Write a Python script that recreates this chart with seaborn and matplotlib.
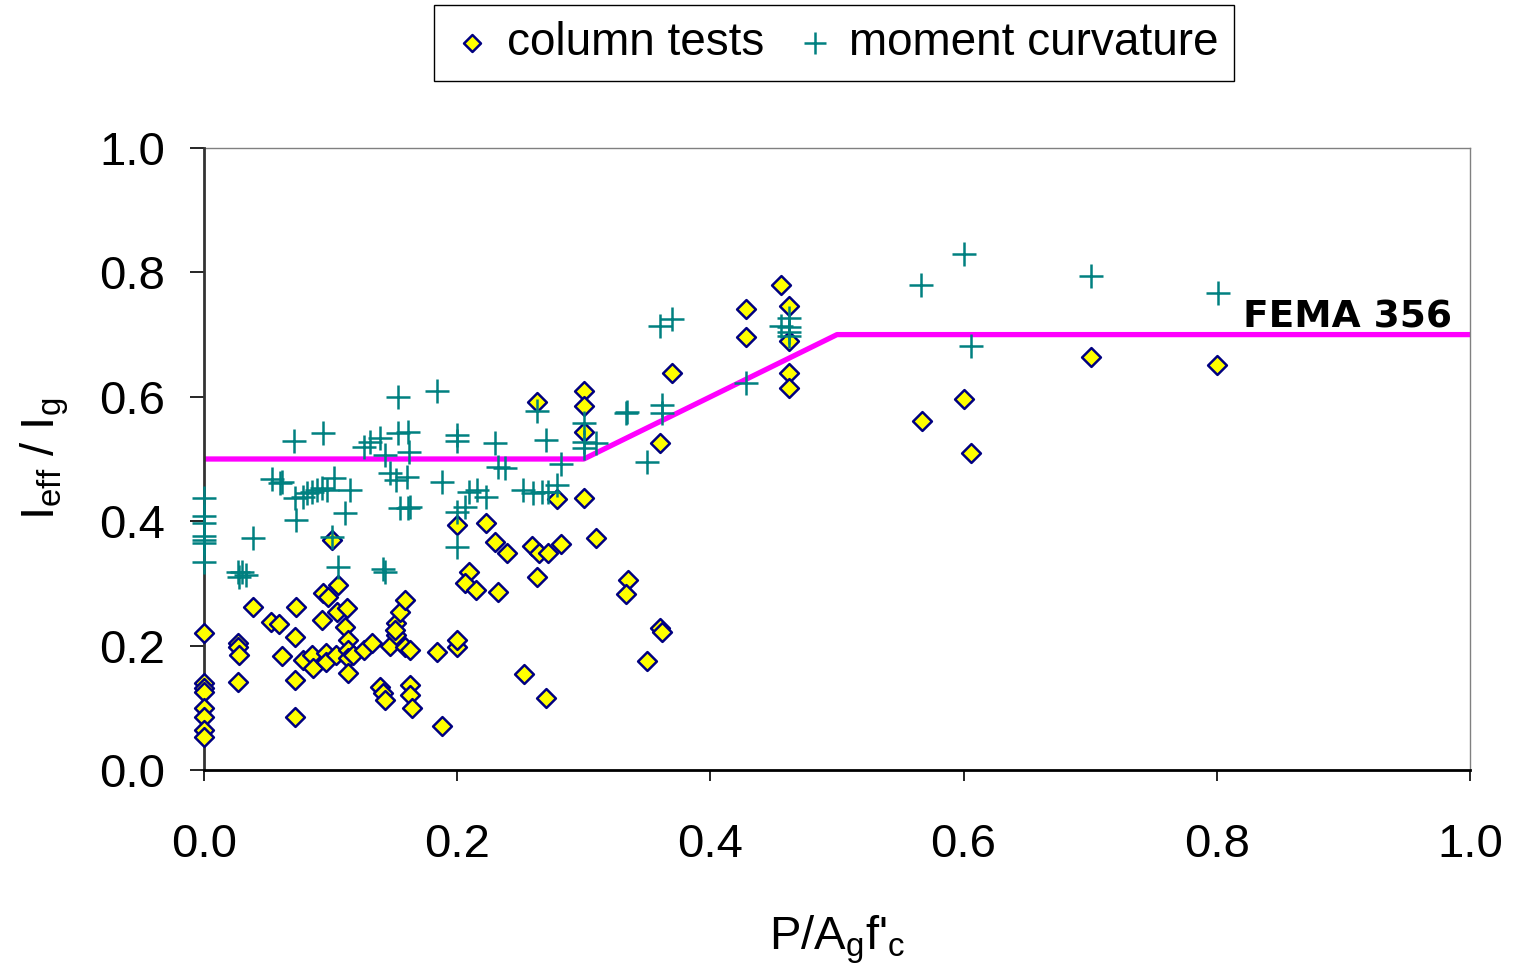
import matplotlib
matplotlib.use("Agg")
import matplotlib.pyplot as plt
import seaborn as sns
import pandas as pd
import numpy as np

# ---- data ----
col_x = [0, 0, 0, 0, 0, 0, 0, 0,
         0.027, 0.027, 0.028, 0.027,
         0.039, 0.053, 0.059, 0.062,
         0.073, 0.072, 0.072, 0.072,
         0.078, 0.085, 0.086, 0.093, 0.094, 0.098, 0.096, 0.096, 0.104, 0.106,
         0.105, 0.113, 0.111, 0.114, 0.114, 0.114, 0.114, 0.118, 0.126, 0.133,
         0.147, 0.139, 0.141, 0.143, 0.152, 0.155, 0.159, 0.152, 0.159, 0.163,
         0.163, 0.163, 0.164, 0.151, 0.101,
         0.279, 0.300, 0.300, 0.300, 0.300, 0.263, 0.200, 0.223, 0.230, 0.239,
         0.259, 0.265, 0.272, 0.282, 0.310, 0.209, 0.206, 0.215, 0.232, 0.263,
         0.335, 0.333, 0.184, 0.200, 0.200, 0.188, 0.253, 0.270, 0.350, 0.360,
         0.362,
         0.370, 0.360, 0.428, 0.428, 0.456, 0.462, 0.462, 0.462, 0.462,
         0.567, 0.600, 0.606, 0.701, 0.800]
col_y = [0.220, 0.140, 0.132, 0.125, 0.100, 0.085, 0.064, 0.053,
         0.204, 0.198, 0.185, 0.141,
         0.262, 0.238, 0.235, 0.183,
         0.262, 0.214, 0.145, 0.085,
         0.177, 0.185, 0.164, 0.241, 0.284, 0.278, 0.188, 0.174, 0.185, 0.297,
         0.254, 0.260, 0.230, 0.209, 0.193, 0.180, 0.156, 0.185, 0.193, 0.204,
         0.200, 0.134, 0.124, 0.113, 0.236, 0.254, 0.273, 0.217, 0.198, 0.193,
         0.137, 0.120, 0.100, 0.225, 0.370,
         0.436, 0.437, 0.609, 0.585, 0.543, 0.592, 0.394, 0.397, 0.367, 0.349,
         0.360, 0.349, 0.349, 0.363, 0.373, 0.318, 0.300, 0.289, 0.286, 0.310,
         0.305, 0.283, 0.190, 0.198, 0.209, 0.071, 0.154, 0.116, 0.175, 0.228,
         0.222,
         0.638, 0.526, 0.741, 0.696, 0.780, 0.746, 0.690, 0.638, 0.614,
         0.561, 0.596, 0.510, 0.664, 0.651]

mc_x = [0, 0, 0, 0, 0, 0, 0,
        0.039, 0.027, 0.030, 0.028, 0.033,
        0.071, 0.094, 0.054, 0.060, 0.062, 0.073,
        0.072, 0.078, 0.081, 0.085, 0.089, 0.093, 0.097, 0.103, 0.115, 0.111,
        0.106, 0.101,
        0.126, 0.131, 0.139, 0.143, 0.153, 0.153, 0.161, 0.162, 0.147, 0.152,
        0.160, 0.155, 0.161, 0.163, 0.143, 0.141,
        0.184, 0.200, 0.200, 0.230, 0.232, 0.238, 0.270, 0.263, 0.300, 0.300,
        0.310, 0.300, 0.334, 0.350, 0.282, 0.188, 0.209, 0.216, 0.223, 0.200,
        0.206, 0.200, 0.252, 0.260, 0.267, 0.272, 0.279,
        0.360, 0.370, 0.333, 0.362, 0.362, 0.428, 0.456, 0.462, 0.462, 0.462,
        0.462,
        0.566, 0.600, 0.606, 0.701, 0.801]
mc_y = [0.437, 0.408, 0.397, 0.376, 0.370, 0.365, 0.334,
        0.373, 0.318, 0.318, 0.310, 0.314,
        0.529, 0.542, 0.468, 0.461, 0.463, 0.402,
        0.437, 0.439, 0.445, 0.447, 0.450, 0.453, 0.450, 0.469, 0.450, 0.413,
        0.326, 0.375,
        0.519, 0.527, 0.534, 0.506, 0.600, 0.542, 0.543, 0.511, 0.477, 0.466,
        0.471, 0.421, 0.421, 0.423, 0.318, 0.323,
        0.609, 0.539, 0.529, 0.526, 0.487, 0.486, 0.531, 0.577, 0.558, 0.527,
        0.526, 0.518, 0.576, 0.495, 0.492, 0.463, 0.447, 0.450, 0.439, 0.415,
        0.423, 0.359, 0.450, 0.445, 0.447, 0.447, 0.458,
        0.714, 0.725, 0.574, 0.587, 0.574, 0.622, 0.714, 0.727, 0.712, 0.704,
        0.698,
        0.780, 0.830, 0.682, 0.794, 0.767]

fema_x = [0.0, 0.3, 0.5, 1.0]
fema_y = [0.5, 0.5, 0.7, 0.7]

x_ticks = [0.0, 0.2, 0.4, 0.6, 0.8, 1.0]
y_ticks = [0.0, 0.2, 0.4, 0.6, 0.8, 1.0]

# ---- style ----
sns.set_style("white")
plt.rcParams['font.family'] = ['Liberation Sans', 'DejaVu Sans']
plt.rcParams['mathtext.fontset'] = 'custom'
plt.rcParams['mathtext.rm'] = 'Liberation Sans'
plt.rcParams['text.color'] = 'black'
plt.rcParams['axes.labelcolor'] = 'black'
plt.rcParams['xtick.color'] = 'black'
plt.rcParams['ytick.color'] = 'black'

fig = plt.figure(figsize=(15.14, 9.65), dpi=100)
ax = fig.add_axes([204/1514, 1 - 770/965, (1470-204)/1514, (770-148)/965])

df_col = pd.DataFrame({"x": col_x, "y": col_y})
df_mc = pd.DataFrame({"x": mc_x, "y": mc_y})
df_fema = pd.DataFrame({"x": fema_x, "y": fema_y})

sns.lineplot(data=df_fema, x="x", y="y", ax=ax, color="#FF00FF", lw=3.8,
             sort=False, estimator=None, zorder=1, legend=False)
sns.scatterplot(data=df_col, x="x", y="y", ax=ax, marker="D", s=92,
                color="#FFFF00", edgecolor="#000080", linewidth=1.8,
                zorder=4, label="column tests", clip_on=False)
sns.scatterplot(data=df_mc, x="x", y="y", ax=ax, marker="+", s=300,
                color="#008080", linewidth=1.8, zorder=5,
                label="moment curvature", clip_on=False)

ax.text(0.821, 0.712, "FEMA 356", fontsize=27, fontweight="bold",
        family="DejaVu Sans", ha="left", va="baseline", color="black")

ax.set_xlim(0, 1.0)
ax.set_ylim(0, 1.0)
ax.set_xticks(x_ticks)
ax.set_yticks(y_ticks)
ax.set_xticklabels([f"{v:.1f}" for v in x_ticks])
ax.set_yticklabels([f"{v:.1f}" for v in y_ticks])
ax.tick_params(axis="x", direction="out", length=8, width=1.2, pad=30,
               labelsize=34, bottom=True, colors="black")
ax.tick_params(axis="y", direction="out", length=10, width=1.2, pad=18,
               labelsize=34, left=True, colors="black")

ax.set_xlabel("P/A$_\\mathregular{g}$f'$_\\mathregular{c}$", fontsize=34,
              labelpad=34, color="black")
ax.set_ylabel("I$_\\mathregular{eff}$ / I$_\\mathregular{g}$", fontsize=34,
              labelpad=20, color="black")

for side in ["top", "right"]:
    ax.spines[side].set_color("#808080")
    ax.spines[side].set_linewidth(1.0)
ax.spines["left"].set_color("#333333")
ax.spines["left"].set_linewidth(2.0)
ax.spines["bottom"].set_color("black")
ax.spines["bottom"].set_linewidth(2.0)
ax.spines["left"].set_zorder(3)
ax.spines["bottom"].set_zorder(3)

handles, labels = ax.get_legend_handles_labels()
ax.get_legend().remove()
leg = fig.legend(handles, labels, loc="center",
                 bbox_to_anchor=(834/1514, 1 - 43/965), ncol=2,
                 fontsize=33, frameon=True, fancybox=False, framealpha=1,
                 edgecolor="black", handletextpad=0.25, columnspacing=0.6,
                 handlelength=1.0, borderpad=0.35, markerscale=0.9)
leg.get_frame().set_linewidth(1.0)

fig.savefig("out.png", dpi=100)
